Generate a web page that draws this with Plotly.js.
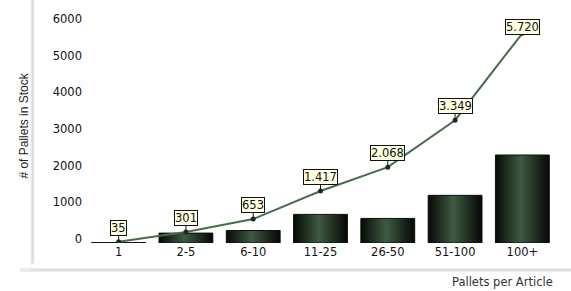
<!DOCTYPE html>
<html>
<head>
<meta charset="utf-8">
<script src="https://cdn.plot.ly/plotly-3.0.1.min.js"></script>
<style>html,body{margin:0;padding:0;background:#fff;}#chart{width:571px;height:291px;}</style>
</head>
<body>
<div id="chart"></div>
<script>
// ---- data ----
const categories = ['1', '2-5', '6-10', '11-25', '26-50', '51-100', '100+'];
const barValues = [12, 270, 340, 780, 670, 1300, 2400];
const lineValues = [35, 301, 653, 1417, 2068, 3349, 5720];
const yTickValues = [0, 1000, 2000, 3000, 4000, 5000, 6000];
const yTitle = '# of Pallets in Stock';
const xTitle = 'Pallets per Article';

// ---- layout geometry ----
const W = 571, H = 291;
const M = {l: 85, r: 15, t: 23.3, b: 47.5};
const PW = W - M.l - M.r, PH = H - M.t - M.b;
const YMAX = 6000;
const px2x = p => (p - M.l) / PW;
const px2y = p => (H - M.b - p) / PH;
const val2py = v => M.t + (1 - v / YMAX) * PH;

const fmt = v => String(v).replace(/\B(?=(\d{3})+(?!\d))/g, '.');
const FONT = 'DejaVu Sans, Verdana, sans-serif';

const bars = {
  type: 'bar', x: categories, y: barValues,
  marker: {color: '#1f2f21', line: {color: '#0a100a', width: 1}},
  hoverinfo: 'none', showlegend: false
};
const line = {
  type: 'scatter', mode: 'lines+markers', x: categories, y: lineValues,
  line: {color: '#4a6b4c', width: 2},
  marker: {color: '#1e2e1f', size: 5},
  hoverinfo: 'none', showlegend: false
};

// category axis: annotations are placed by category index
const annotations = categories.map((c, i) => {
  const py = val2py(lineValues[i]);
  const ay = -Math.min(14, py - 27);
  return {
    x: i, y: lineValues[i], xref: 'x', yref: 'y',
    text: fmt(lineValues[i]), showarrow: true, arrowhead: 0, arrowwidth: 1,
    arrowcolor: '#1a1a1a', ax: 0, ay: ay, standoff: 0,
    bgcolor: '#ffffe1', bordercolor: '#111', borderwidth: 1, borderpad: 0,
    font: {family: FONT, size: 11.5, color: '#111'}
  };
});
annotations.push({
  xref: 'paper', yref: 'paper', x: px2x(555), y: px2y(283),
  xanchor: 'right', yanchor: 'middle', showarrow: false,
  text: xTitle, font: {family: FONT, size: 11.5, color: '#333'}
});
annotations.push({
  xref: 'paper', yref: 'paper', x: px2x(24), y: px2y(126),
  xanchor: 'center', yanchor: 'middle', showarrow: false, textangle: -90,
  text: yTitle, font: {family: 'Liberation Sans Narrow, Arial Narrow, sans-serif', size: 12, color: '#222'}
});

const shapes = [
  {type: 'line', xref: 'paper', yref: 'paper', x0: px2x(32.5), x1: px2x(32.5), y0: px2y(0), y1: px2y(265), line: {color: '#ececec', width: 4}},
  {type: 'line', xref: 'paper', yref: 'paper', x0: px2x(32.5), x1: px2x(32.5), y0: px2y(0), y1: px2y(263), line: {color: '#dadada', width: 1.5}},
  {type: 'line', xref: 'paper', yref: 'paper', x0: px2x(20), x1: px2x(571), y0: px2y(270.5), y1: px2y(270.5), line: {color: '#ececec', width: 4}},
  {type: 'line', xref: 'paper', yref: 'paper', x0: px2x(30), x1: px2x(571), y0: px2y(270.5), y1: px2y(270.5), line: {color: '#dadada', width: 1.5}}
];

const layout = {
  width: W, height: H, margin: M,
  paper_bgcolor: '#fff', plot_bgcolor: '#fff',
  separators: ',.', bargap: 0.2,
  font: {family: FONT, size: 11.5, color: '#111'},
  xaxis: {
    type: 'category', range: [-0.5, categories.length - 0.5],
    showgrid: false, zeroline: false, showline: false, ticks: '',
    tickfont: {family: FONT, size: 11.5, color: '#111'}, ticklabelstandoff: 0
  },
  yaxis: {
    range: [0, YMAX], tickvals: yTickValues, tickformat: 'd',
    showgrid: false, zeroline: false, showline: false, ticks: '',
    tickfont: {family: FONT, size: 11.5, color: '#111'},
    ticklabelshift: -4, ticklabelstandoff: 2
  },
  annotations: annotations, shapes: shapes
};

Plotly.newPlot('chart', [bars, line], layout, {staticPlot: true}).then(gd => {
  const svg = gd.querySelector('.main-svg');
  let defs = svg.querySelector('defs');
  const NS = 'http://www.w3.org/2000/svg';
  const g = document.createElementNS(NS, 'linearGradient');
  g.setAttribute('id', 'barGrad');
  g.setAttribute('x1', '0'); g.setAttribute('x2', '1');
  g.setAttribute('y1', '0'); g.setAttribute('y2', '0');
  [[0, '#050905'], [0.47, '#3f5a42'], [1, '#040704']].forEach(([o, c]) => {
    const s = document.createElementNS(NS, 'stop');
    s.setAttribute('offset', o); s.setAttribute('stop-color', c);
    g.appendChild(s);
  });
  defs.appendChild(g);
  gd.querySelectorAll('.barlayer .point path').forEach(p => { p.style.fill = 'url(#barGrad)'; });
});
</script>
</body>
</html>
